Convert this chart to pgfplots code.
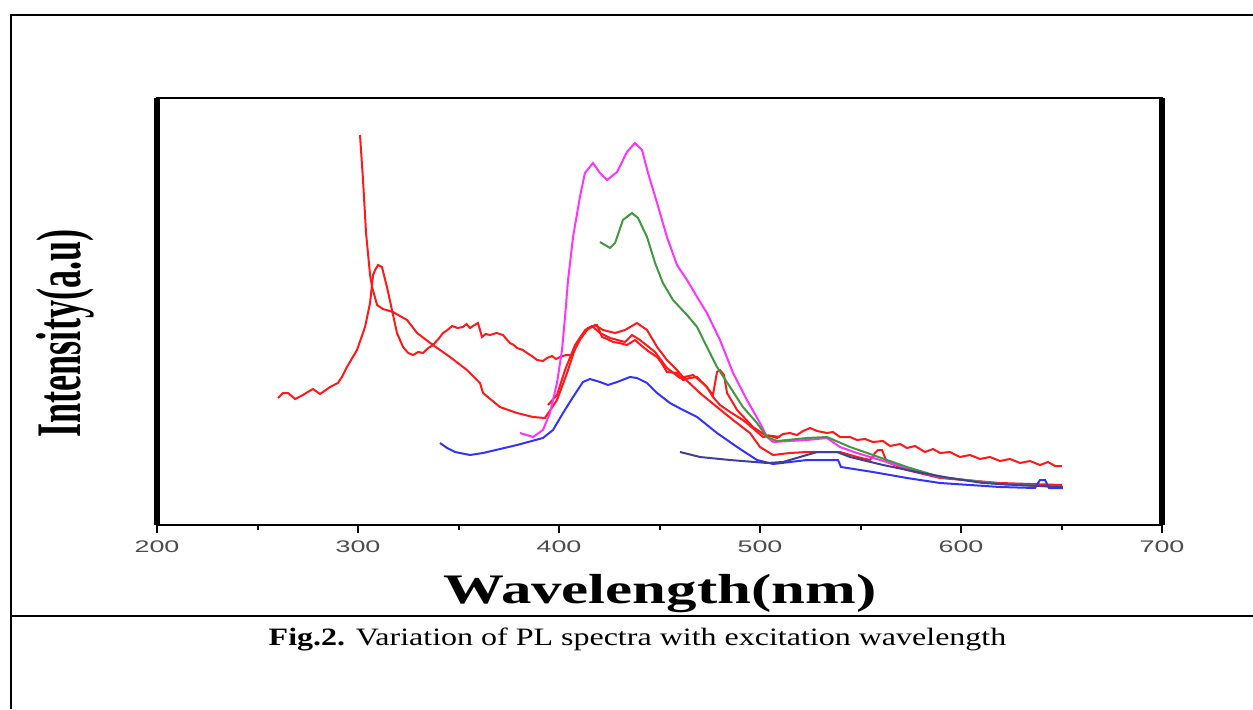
\documentclass[border=0pt]{standalone}
\usepackage{fontspec}
\setmainfont{Liberation Serif}
\usepackage{pgfplots}
\pgfplotsset{compat=1.18}
\newfontfamily\ticksf[FakeStretch=1.6]{Liberation Sans}
\newfontfamily\xlabfont[FakeStretch=1.45]{Liberation Serif}
\newfontfamily\ylabfont[FakeStretch=0.57]{Liberation Serif}
\newfontfamily\capfont[FakeStretch=1.28]{Liberation Serif}
\definecolor{cred}{rgb}{1,0.1,0.1}
\definecolor{cmag}{rgb}{1,0.2,1}
\definecolor{cgreen}{rgb}{0.25,0.6,0.25}
\definecolor{cblue}{rgb}{0.2,0.2,1}
\definecolor{cnavy}{rgb}{0.25,0.25,0.6}
\begin{document}
\begin{tikzpicture}
\useasboundingbox (0,0) rectangle (626.5pt,354.5pt);
% table frame
\draw[line width=1.3pt] (5.5pt,0) -- (5.5pt,347pt) -- (626.5pt,347pt);
\draw[line width=1.3pt] (5.5pt,46.5pt) -- (626.5pt,46.5pt);
\begin{axis}[
  at={(78.5pt,92pt)}, anchor=south west,
  scale only axis, width=502.5pt, height=213.5pt,
  xmin=200, xmax=700, ymin=0, ymax=427,
  xtick={200,300,400,500,600,700},
  minor x tick num=1,
  ytick=\empty,
  xtick pos=bottom, tick align=outside,
  major tick length=4pt, minor tick length=2.5pt,
  every tick/.style={black, line width=1pt},
  axis line style={line width=1.4pt},
  /pgf/number format/assume math mode=true,
  xticklabel style={font=\ticksf\fontsize{8.4}{9}\selectfont, text=black!70, anchor=north, yshift=-0.5pt},
  clip=false,
]
\draw[line width=2.8pt] (rel axis cs:0,0) -- (rel axis cs:0,1);
\draw[line width=2.8pt] (rel axis cs:1,0) -- (rel axis cs:1,1);
% Red A (noisy, from 260 nm)
\addplot[cred, line width=1pt] table {
260.2 127
262.7 132
265.2 132
268.7 126
272.6 130
275.0 133
277.6 136
281.1 131
284.0 135
286.1 138
290.0 142
292.0 148
294.5 158
299.5 175
303.5 198
306.0 222
307.5 250
308.5 255
310.0 260
311.9 258
314.4 238
316.9 215
319.4 192
322.4 178
325.0 172
327.4 170
330.0 173
332.3 172
335.0 177
337.3 180
340.0 186
342.3 192
344.5 195
346.8 199
349.5 197
352.2 198
354.0 201
355.7 197
358.0 200
359.7 202
361.7 188
363.5 191
365.7 190
369.0 192
372.1 190
375.6 182
377.5 180
379.1 177
382.0 175
384.1 172
386.5 169
389.1 165
392.0 164
394.0 167
396.5 169
398.5 166
400.5 168
403.5 170
406.5 170
410.4 185
414.4 197
418.9 200
421.4 188
424.0 186
426.9 183
430.0 182
433.8 180
437.8 185
441.8 178
445.0 173
448.8 168
451.0 162
453.7 153
458.7 152
461.7 145
465.0 147
468.7 148
471.0 143
473.6 138
476.6 128
480.1 120
485.1 113
491.5 105
497.5 95
501.5 88
505.0 89
508.5 87
511.4 91
514.9 92
518.4 90
521.4 94
524.9 97
528.4 94
533.3 92
536.3 93
539.8 88
544.8 88
548.3 85
552.2 86
556.2 83
561.2 84
564.7 79
569.7 81
573.1 77
577.1 79
582.1 73
586.1 76
589.6 72
594.5 73
599.5 68
604.5 70
609.5 66
614.4 68
619.4 64
624.4 66
629.4 62
634.3 64
639.3 60
643.3 63
646.8 59
650.2 59
};
% Red B (from 300 nm)
\addplot[cred, line width=1pt] table {
301.0 390
302.5 345
304.0 292
306.0 250
307.0 238
309.5 220
312.4 216
317.4 213
324.4 205
329.4 192
337.3 180
345.8 168
354.2 155
360.7 142
362.2 132
370.6 118
379.1 112
387.1 108
393.0 107
399.0 125
404.0 152
408.9 182
413.9 195
417.9 200
421.9 195
427.9 192
432.8 195
438.8 202
443.8 195
448.8 178
453.7 165
458.7 155
461.7 148
470.1 132
478.6 118
486.6 105
495.0 92
500.0 78
506.5 70
514.9 72
523.4 73
539.8 73
548.3 68
554.7 65
557.2 72
558.7 75
560.7 75
562.5 66
563.2 63
573.1 55
589.6 47
619.4 42
650.2 40
};
% Red C (with spike at 481 nm)
\addplot[cred, line width=1pt] table {
394.5 120
399.0 130
403.0 155
408.0 180
413.0 195
416.4 199
420.4 192
425.4 187
432.8 183
436.3 190
440.3 185
447.8 173
453.7 157
460.2 147
466.7 150
472.6 140
476.6 130
478.6 153
480.1 155
482.1 150
483.6 132
488.6 115
496.5 98
502.5 90
510.0 88
};
% Magenta
\addplot[cmag, line width=1pt] table {
380.6 92
387.1 88
392.0 95
395.5 112
399.0 142
401.5 175
403.0 208
404.5 245
407.0 288
410.4 328
412.9 352
416.9 362
420.4 352
423.9 345
428.9 353
433.8 373
437.8 382
441.3 375
444.3 352
448.8 322
453.7 288
458.7 260
463.7 245
468.7 228
473.6 212
480.1 185
486.6 152
493.5 125
500.0 102
503.5 88
506.5 83
523.4 85
533.3 87
539.8 78
548.3 72
564.7 62
581.1 52
589.6 48
619.4 41
650.7 38
};
% Green
\addplot[cgreen, line width=1pt] table {
420.4 283
425.4 277
427.9 282
431.8 305
436.3 312
439.3 307
443.8 288
447.8 262
451.7 242
456.7 225
463.7 210
468.7 198
473.6 178
478.6 158
485.1 138
491.5 118
498.5 102
503.5 88
508.5 84
523.4 87
533.3 88
544.8 78
556.2 70
573.1 58
589.6 48
619.4 41
650.7 38
};
% Blue
\addplot[cblue, line width=1pt] table {
340.8 82
344.3 77
348.3 73
355.7 70
362.2 72
379.1 80
392.0 87
397.0 95
402.0 112
407.0 128
411.9 143
415.4 146
420.4 143
424.4 140
428.9 143
435.3 148
438.8 147
443.8 142
448.8 132
455.2 122
461.7 115
468.7 108
478.6 92
488.6 78
498.5 65
506.5 61
523.4 65
536.3 65
538.8 65
540.3 58
556.2 53
573.1 47
589.6 42
619.4 38
636.8 37
639.3 45
641.8 45
643.8 37
650.7 37
};
% Navy
\addplot[cnavy, line width=1pt] table {
460.2 73
470.1 68
485.1 65
503.5 62
511.4 63
519.9 68
528.4 73
538.3 73
544.8 68
561.2 60
578.1 53
594.5 47
610.9 42
627.9 40
650.7 38
};
\end{axis}
\node[anchor=base, inner sep=0] at (330pt,53pt) {\xlabfont\bfseries\fontsize{21}{24}\selectfont Wavelength(nm)};
\node[anchor=base, rotate=90, inner sep=0] at (40pt,187.75pt) {\ylabfont\bfseries\fontsize{31.7}{34}\selectfont Intensity(a.u)};
\node[anchor=base, inner sep=0] at (318.75pt,32pt) {\capfont\fontsize{12.5}{14}\selectfont\textbf{Fig.2.} Variation of PL spectra with excitation wavelength};
\end{tikzpicture}
\end{document}
